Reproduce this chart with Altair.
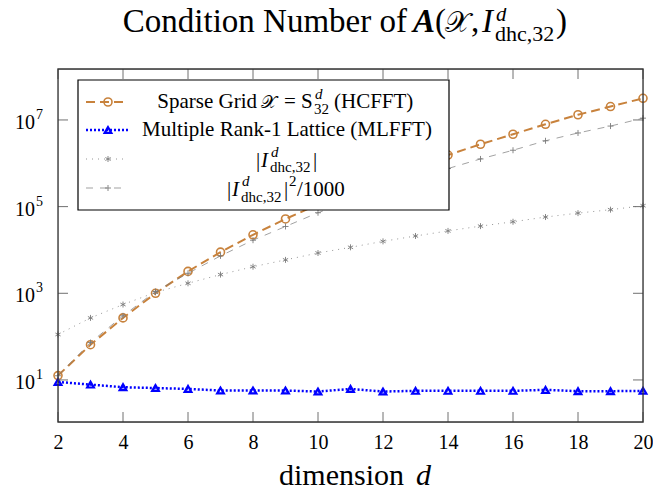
import altair as alt
import pandas as pd

# ---------------- data ----------------
dims = list(range(2, 21))
sparse_grid = [12.6, 65, 270, 1000, 3200, 8900, 22400, 52000, 112000, 224000,
               427000, 794000, 1550000, 2750000, 4680000, 7940000, 13200000,
               20400000, 31600000]
mlfft = [9.0, 7.8, 6.8, 6.5, 6.2, 5.7, 5.7, 5.7, 5.4, 6.2, 5.4, 5.6, 5.6, 5.6,
         5.6, 5.9, 5.5, 5.5, 5.6]
hc_size = [112, 270, 550, 1050, 1700, 2700, 4100, 5900, 8500, 11500, 15800,
           21000, 27500, 35500, 44700, 57500, 70800, 85000, 105000]
hc_sq = [12.5, 72.9, 302, 1100, 2890, 7290, 16800, 34800, 72300, 132000,
         250000, 441000, 756000, 1260000, 2000000, 3310000, 5010000, 7230000,
         11000000]
x_ticks = [2, 4, 6, 8, 10, 12, 14, 16, 18, 20]
y_ticks = [1e1, 1e3, 1e5, 1e7]
y_tick_base = ["10", "10", "10", "10"]
y_tick_exp = ["1", "3", "5", "7"]
legend_labels = ["Multiple Rank-1 Lattice (MLFFT)"]

# ---------------- styling ----------------
W, H = 585, 353
FONT = "Liberation Serif"
ORANGE = "#C8823C"
BLUE = "#0000FF"
GRAY = "#7A7A7A"
ASTER = "M0,-1L0,1M-0.87,-0.5L0.87,0.5M-0.87,0.5L0.87,-0.5"
PLUS = "M0,-1L0,1M-1,0L1,0"

df = pd.DataFrame({"d": dims, "sg": sparse_grid, "ml": mlfft,
                   "hc": hc_size, "sq": hc_sq})
one = pd.DataFrame({"k": [0]})

xs = alt.Scale(domain=[2, 20], nice=False, zero=False)
ys = alt.Scale(type="log", domain=[1.07, 1.5e8], nice=False)

AX_X = alt.Axis(values=x_ticks, ticks=False, domain=False, grid=False, title=None,
                labelFont=FONT, labelFontSize=20, labelPadding=10, labelColor="black",
                labelFlush=False, labelOverlap=False, format="d")
AX_Y = alt.Axis(values=y_ticks, ticks=False, domain=False, grid=False, title=None,
                labels=False)


def X(field):
    return alt.X(f"{field}:Q", scale=xs, axis=AX_X)


def Y(field):
    return alt.Y(f"{field}:Q", scale=ys, axis=AX_Y)


def series(field, color, dash, width, shape, size, sw, filled=False):
    base = alt.Chart(df)
    line = base.mark_line(color=color, strokeDash=dash, strokeWidth=width).encode(
        x=X("d"), y=Y(field))
    pts = base.mark_point(shape=shape, size=size, strokeWidth=sw, color=color,
                          filled=filled, opacity=1).encode(x=X("d"), y=Y(field))
    return [line, pts]


def txt(s, x, y, size, style="normal", weight="normal", align="left"):
    return alt.Chart(one).mark_text(
        text=s, font=FONT, fontSize=size, fontStyle=style, fontWeight=weight,
        align=align, baseline="alphabetic", color="black"
    ).encode(x=alt.value(x), y=alt.value(y))


def sample(y, color, dash, width, shape, size, sw, filled=False):
    ln = alt.Chart(one).mark_rule(color=color, strokeDash=dash, strokeWidth=width).encode(
        x=alt.value(28), x2=alt.value(70), y=alt.value(y))
    pt = alt.Chart(one).mark_point(shape=shape, size=size, strokeWidth=sw, color=color,
                                   filled=filled, opacity=1).encode(
        x=alt.value(50), y=alt.value(y))
    return [ln, pt]


layers = []
layers += series("sg", ORANGE, [9, 5], 2, "circle", 64, 1.6)
layers += series("ml", BLUE, [2, 2], 2.5, "triangle-up", 45, 2.2)
layers += series("hc", GRAY, [1, 5], 0.8, ASTER, 36, 0.9)
layers += series("sq", GRAY, [7, 7], 0.7, PLUS, 36, 0.9)

# inward ticks
tdx = pd.DataFrame({"t": x_ticks})
tdy = pd.DataFrame({"t": y_ticks, "b": y_tick_base, "e": y_tick_exp})
TK = "#707070"
layers.append(alt.Chart(tdx).mark_rule(color=TK, strokeWidth=1).encode(
    x=X("t"), y=alt.value(H), y2=alt.value(H - 10)))
layers.append(alt.Chart(tdx).mark_rule(color=TK, strokeWidth=1).encode(
    x=X("t"), y=alt.value(0), y2=alt.value(10)))
layers.append(alt.Chart(tdy).mark_rule(color=TK, strokeWidth=1).encode(
    y=Y("t"), x=alt.value(0), x2=alt.value(10)))
layers.append(alt.Chart(tdy).mark_rule(color=TK, strokeWidth=1).encode(
    y=Y("t"), x=alt.value(W), x2=alt.value(W - 10)))

# y tick labels: 10 with raised exponent
layers.append(alt.Chart(tdy).mark_text(
    font=FONT, fontSize=20, align="right", baseline="alphabetic", dy=9, color="black"
).encode(y=Y("t"), x=alt.value(-23), text="b:N"))
layers.append(alt.Chart(tdy).mark_text(
    font=FONT, fontSize=14, align="left", baseline="alphabetic", dy=-1, color="black"
).encode(y=Y("t"), x=alt.value(-22), text="e:N"))

# frame
layers.append(alt.Chart(one).mark_rect(fillOpacity=0, stroke="#333333", strokeWidth=1.3).encode(
    x=alt.value(0), x2=alt.value(W), y=alt.value(0), y2=alt.value(H)))

# legend box
layers.append(alt.Chart(one).mark_rect(fill="white", stroke="black", strokeWidth=1.2).encode(
    x=alt.value(20), x2=alt.value(391), y=alt.value(11), y2=alt.value(141)))
layers += sample(33, ORANGE, [9, 5], 2, "circle", 64, 1.6)
layers += sample(61, BLUE, [2, 2], 2.5, "triangle-up", 45, 2.2)
layers += sample(90, GRAY, [1, 5], 0.8, ASTER, 36, 0.9)
layers += sample(119, GRAY, [7, 7], 0.7, PLUS, 36, 0.9)

LS = 21
# legend row 1
layers.append(txt("Sparse Grid", 199, 39, LS, align="right"))
layers.append(txt("𝒳", 203, 39, 18))
layers.append(txt("= S", 226, 39, LS))
layers.append(txt("d", 257, 30, 15, style="italic"))
layers.append(txt("32", 256, 45, 15))
layers.append(txt("(HCFFT)", 276, 39, LS))
# legend row 2
layers.append(txt(legend_labels[0], 229, 67, LS, align="center"))
# legend row 3
s3 = 198
layers.append(txt("|", s3, 98, LS))
layers.append(txt("I", s3 + 5, 98, LS, style="italic"))
layers.append(txt("d", s3 + 15, 88, 15, style="italic"))
layers.append(txt("dhc,32", s3 + 14, 103, 15))
layers.append(txt("|", s3 + 57, 98, LS))
# legend row 4
s4 = 169
layers.append(txt("|", s4, 127, LS))
layers.append(txt("I", s4 + 5, 127, LS, style="italic"))
layers.append(txt("d", s4 + 15, 117, 15, style="italic"))
layers.append(txt("dhc,32", s4 + 14, 133, 15))
layers.append(txt("|", s4 + 57, 127, LS))
layers.append(txt("2", s4 + 62, 117, 15))
layers.append(txt("/1000", s4 + 70, 127, LS))

# title
TY = -37
TS = 33
layers.append(txt("Condition Number of", 349, TY, TS, align="right"))
layers.append(txt("A", 355, TY, TS, style="italic", weight="bold"))
layers.append(txt("(", 377, TY, TS))
layers.append(txt("𝒳", 387, TY, 29))
layers.append(txt(",", 413, TY, TS))
layers.append(txt("I", 424, TY, TS, style="italic"))
layers.append(txt("d", 438, -48, 21, style="italic"))
layers.append(txt("dhc,32", 437, -28, 22))
layers.append(txt(")", 498, TY, TS))

# x-axis title
layers.append(txt("dimension", 221, 416, 30))
layers.append(txt("d", 358, 416, 30, style="italic"))

chart = alt.layer(*layers).properties(
    width=W, height=H,
    padding={"left": 50, "top": 61, "right": 10, "bottom": 64},
    autosize=alt.AutoSizeParams(type="none"),
).configure_view(strokeWidth=0).configure(background="white")

chart.save("out.html", embed_options={"renderer": "svg", "actions": False})
